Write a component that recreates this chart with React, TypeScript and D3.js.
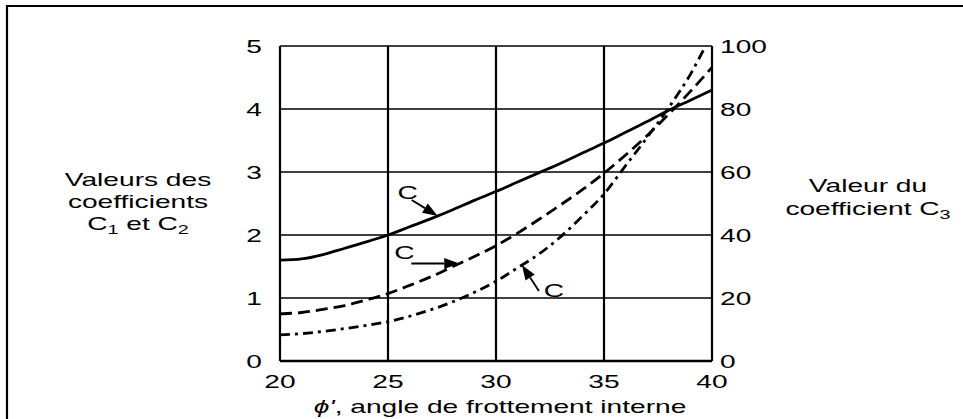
import React from "react";
import * as d3 from "d3";

// Angle of internal friction (degrees)
const phi = [20, 21, 22, 23, 24, 25, 26, 27, 28, 29, 30, 31, 32, 33, 34, 35, 36, 37, 38, 39, 40];
// Coefficient C1 (left axis)
const c1 = [1.6, 1.62, 1.69, 1.79, 1.89, 2.0, 2.13, 2.26, 2.4, 2.55, 2.69, 2.84, 2.99, 3.14, 3.3, 3.46, 3.63, 3.8, 3.98, 4.14, 4.3];
// Coefficient C2 (left axis)
const c2 = [0.75, 0.77, 0.82, 0.88, 0.97, 1.07, 1.2, 1.34, 1.5, 1.66, 1.83, 2.03, 2.25, 2.48, 2.72, 2.98, 3.27, 3.58, 3.92, 4.28, 4.66];
// Coefficient C3 (right axis)
const c3Phi = [20, 21, 22, 23, 24, 25, 26, 27, 28, 29, 30, 31, 32, 33, 34, 35, 36, 37, 38, 39, 39.7];
const c3 = [8.3, 8.7, 9.4, 10.3, 11.3, 12.5, 14.2, 16.3, 18.8, 21.8, 25.3, 29.6, 34, 39.5, 46, 53, 62, 71, 80.5, 91, 100];

const xTicks = [20, 25, 30, 35, 40];
const leftTicks = [0, 1, 2, 3, 4, 5];
const rightTicks = [0, 20, 40, 60, 80, 100];

const W = 963;
const H = 419;
const M = { left: 280, right: 712, top: 46, bottom: 361 };
const FS = 18.5;
const SX = 1.52;
const FONT = "'Liberation Sans', Arial, sans-serif";

const x = d3.scaleLinear().domain([20, 40]).range([M.left, M.right]);
const yL = d3.scaleLinear().domain([0, 5]).range([M.bottom, M.top]);
const yR = d3.scaleLinear().domain([0, 100]).range([M.bottom, M.top]);

function at(xs: number[], ys: number[], v: number) {
  const i = Math.max(1, d3.bisectLeft(xs, v));
  const t = (v - xs[i - 1]) / (xs[i] - xs[i - 1]);
  return ys[i - 1] + t * (ys[i] - ys[i - 1]);
}

// Curve callouts: tip position on a curve, tail / label offsets in pixels
const callouts = [
  { xs: phi, ys: c1, y: yL, tip: 27.3, tail: [-26, -16], label: [-30, -17] },
  { xs: phi, ys: c2, y: yL, tip: 28.3, tail: [-48, 0], label: [-55, -4] },
  { xs: c3Phi, ys: c3, y: yR, tip: 31.2, tail: [17, 26], label: [32, 32] },
];

function SText(props: { x: number; y: number; anchor?: string; children: React.ReactNode }) {
  return (
    <text
      transform={`translate(${props.x},${props.y}) scale(${SX},1)`}
      textAnchor={props.anchor || "start"}
      fontSize={FS}
      fontFamily={FONT}
      fill="#000"
    >
      {props.children}
    </text>
  );
}

export default function App() {
  const lineL = d3
    .line<number>()
    .x((_, i) => x(phi[i]))
    .y((d) => yL(d))
    .curve(d3.curveMonotoneX);
  const line3 = d3
    .line<number>()
    .x((_, i) => x(c3Phi[i]))
    .y((d) => yR(d))
    .curve(d3.curveMonotoneX);

  return (
    <svg
      width={W}
      height={H}
      style={{ position: "absolute", left: 0, top: 0, background: "#fff" }}
    >
      {/* frame */}
      <line x1={6} x2={W} y1={6} y2={6} stroke="#000" strokeWidth={2.2} />
      <line x1={7} x2={7} y1={5} y2={H} stroke="#000" strokeWidth={2.2} />

      {/* grid */}
      {leftTicks.map((t) => (
        <line key={"h" + t} x1={M.left} x2={M.right} y1={yL(t)} y2={yL(t)} stroke="#000" strokeWidth={1.5} />
      ))}
      {xTicks.map((t) => (
        <line key={"v" + t} x1={x(t)} x2={x(t)} y1={M.top} y2={M.bottom} stroke="#000" strokeWidth={2.2} />
      ))}
      <line x1={M.left} x2={M.right} y1={M.bottom} y2={M.bottom} stroke="#000" strokeWidth={2.3} />

      {/* curves */}
      <path d={lineL(c1) || ""} fill="none" stroke="#000" strokeWidth={2.8} />
      <path d={lineL(c2) || ""} fill="none" stroke="#000" strokeWidth={2.8} strokeDasharray="12,6" />
      <path d={line3(c3) || ""} fill="none" stroke="#000" strokeWidth={2.8} strokeDasharray="10,5,3,5" />

      {/* callouts */}
      {callouts.map((c, i) => {
        const tx = x(c.tip);
        const ty = c.y(at(c.xs, c.ys, c.tip));
        const sx = tx + c.tail[0];
        const sy = ty + c.tail[1];
        const ang = Math.atan2(ty - sy, tx - sx);
        const L = 15;
        const hw = 5.5;
        const bx = tx - L * Math.cos(ang);
        const by = ty - L * Math.sin(ang);
        const px = -Math.sin(ang) * hw;
        const py = Math.cos(ang) * hw;
        return (
          <g key={i}>
            <line x1={sx} y1={sy} x2={bx} y2={by} stroke="#000" strokeWidth={1.8} />
            <path d={`M${tx},${ty}L${bx + px},${by + py}L${bx - px},${by - py}Z`} fill="#000" />
            <SText x={tx + c.label[0]} y={ty + c.label[1]} anchor="middle">C</SText>
          </g>
        );
      })}

      {/* tick labels */}
      {leftTicks.map((t) => (
        <SText key={"l" + t} x={262} y={yL(t) + 7} anchor="end">{t}</SText>
      ))}
      {rightTicks.map((t) => (
        <SText key={"r" + t} x={720} y={yR(t) + 7}>{t}</SText>
      ))}
      {xTicks.map((t) => (
        <SText key={"x" + t} x={x(t)} y={388} anchor="middle">{t}</SText>
      ))}

      {/* axis titles */}
      <SText x={(M.left + M.right) / 2 + 4} y={413} anchor="middle">
        <tspan fontStyle="italic">ϕ'</tspan>, angle de frottement interne
      </SText>
      <SText x={138} y={186} anchor="middle">Valeurs des</SText>
      <SText x={138} y={208} anchor="middle">coefficients</SText>
      <SText x={138} y={230} anchor="middle">
        C<tspan fontSize={13} dy={4}>1</tspan>
        <tspan dy={-4}> et C</tspan>
        <tspan fontSize={13} dy={4}>2</tspan>
      </SText>
      <SText x={868} y={192} anchor="middle">Valeur du</SText>
      <SText x={868} y={215} anchor="middle">
        coefficient C<tspan fontSize={13} dy={4}>3</tspan>
      </SText>
    </svg>
  );
}
